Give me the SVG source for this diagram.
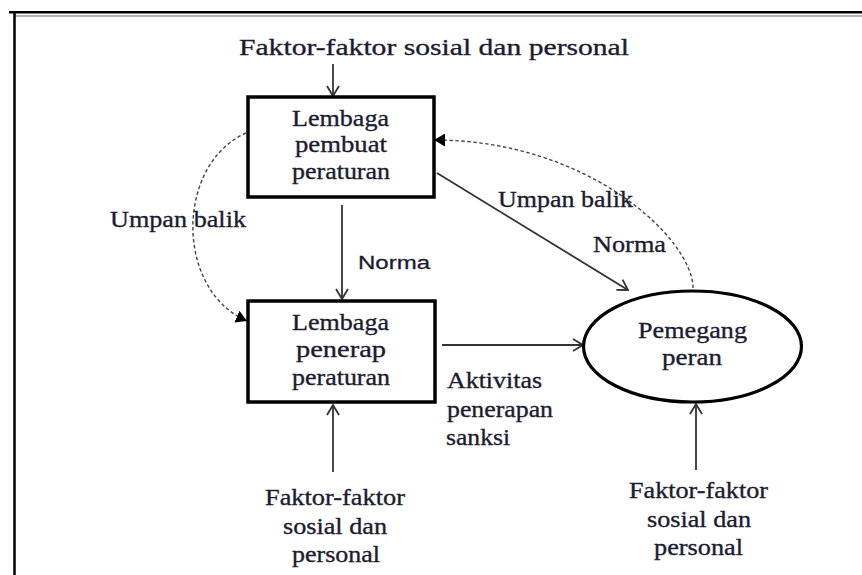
<svg xmlns="http://www.w3.org/2000/svg" width="862" height="575" viewBox="0 0 862 575">
<defs>
<style>
.t{font-family:"Liberation Serif","Times New Roman",serif;font-size:24px;fill:#1c1c30;stroke:#1c1c30;stroke-width:0.35;text-anchor:start}
.s{font-family:"Liberation Sans",Arial,sans-serif;font-size:19px;fill:#1c1c30;stroke:#1c1c30;stroke-width:0.3}
.box{fill:#fff;stroke:#000;stroke-width:3.5}
.ln{fill:none;stroke:#333;stroke-width:1.8}
.dash{fill:none;stroke:#444;stroke-width:1.4;stroke-dasharray:3.5 2.5}
</style>
<marker id="open" viewBox="0 0 12 14" refX="11" refY="7" markerWidth="12" markerHeight="14" markerUnits="userSpaceOnUse" orient="auto">
<path d="M1,1 L11,7 L1,13" fill="none" stroke="#333" stroke-width="1.8"/>
</marker>
<marker id="fill" viewBox="0 0 12 14" refX="12" refY="7" markerWidth="11" markerHeight="13" markerUnits="userSpaceOnUse" orient="auto">
<path d="M0,0 L12,7 L0,14 Z" fill="#000"/>
</marker>
</defs>
<rect width="862" height="575" fill="#fff"/>
<g id="frame">
<line x1="9" y1="12.3" x2="862" y2="12.3" stroke="#000" stroke-width="2.5"/>
<line x1="14" y1="16" x2="862" y2="16" stroke="#999" stroke-width="1.5"/>
<line x1="14.5" y1="11" x2="14.5" y2="575" stroke="#000" stroke-width="2.5"/>
</g>
<g id="connectors">
<line class="ln" x1="333" y1="64" x2="333" y2="96" marker-end="url(#open)"/>
<line class="ln" x1="342" y1="205" x2="342" y2="299" marker-end="url(#open)"/>
<line class="ln" x1="437" y1="173" x2="628" y2="290" marker-end="url(#open)"/>
<line class="ln" x1="442" y1="345" x2="583" y2="345" marker-end="url(#open)"/>
<line class="ln" x1="333" y1="472" x2="333" y2="405" marker-end="url(#open)"/>
<line class="ln" x1="696" y1="470" x2="696" y2="404" marker-end="url(#open)"/>
<path class="dash" d="M246,133 C175,165 175,290 247,321" marker-end="url(#fill)"/>
<path class="dash" d="M693,288 C693,240 590,140 434,140" marker-end="url(#fill)"/>
</g>
<g id="node-top-factors">
<text class="t" x="239" y="55" textLength="390" lengthAdjust="spacingAndGlyphs">Faktor-faktor sosial dan personal</text>
</g>
<g id="node-pembuat">
<rect class="box" x="248" y="97" width="186" height="100"/>
<text class="t" x="292" y="126" textLength="97" lengthAdjust="spacingAndGlyphs">Lembaga</text>
<text class="t" x="295" y="152" textLength="92" lengthAdjust="spacingAndGlyphs">pembuat</text>
<text class="t" x="292" y="179" textLength="98" lengthAdjust="spacingAndGlyphs">peraturan</text>
</g>
<g id="node-penerap">
<rect class="box" x="248" y="301" width="187" height="101"/>
<text class="t" x="292" y="330" textLength="97" lengthAdjust="spacingAndGlyphs">Lembaga</text>
<text class="t" x="296" y="357" textLength="90" lengthAdjust="spacingAndGlyphs">penerap</text>
<text class="t" x="292" y="385" textLength="98" lengthAdjust="spacingAndGlyphs">peraturan</text>
</g>
<g id="node-pemegang">
<ellipse cx="692.5" cy="346.5" rx="109" ry="55.5" fill="#fff" stroke="#000" stroke-width="3.2"/>
<text class="t" x="638" y="338" textLength="109" lengthAdjust="spacingAndGlyphs">Pemegang</text>
<text class="t" x="662" y="365" textLength="60" lengthAdjust="spacingAndGlyphs">peran</text>
</g>
<g id="labels">
<text class="t" x="110" y="227" textLength="136" lengthAdjust="spacingAndGlyphs">Umpan balik</text>
<text class="s" x="358" y="269" textLength="72" lengthAdjust="spacingAndGlyphs">Norma</text>
<text class="t" x="498" y="207" textLength="135" lengthAdjust="spacingAndGlyphs">Umpan balik</text>
<text class="t" x="593" y="252" textLength="73" lengthAdjust="spacingAndGlyphs">Norma</text>
<text class="t" x="447" y="388" textLength="95" lengthAdjust="spacingAndGlyphs">Aktivitas</text>
<text class="t" x="447" y="417" textLength="106" lengthAdjust="spacingAndGlyphs">penerapan</text>
<text class="t" x="446" y="445" textLength="64" lengthAdjust="spacingAndGlyphs">sanksi</text>
</g>
<g id="node-bottom-left-factors">
<text class="t" x="265" y="505" textLength="140" lengthAdjust="spacingAndGlyphs">Faktor-faktor</text>
<text class="t" x="283" y="534" textLength="104" lengthAdjust="spacingAndGlyphs">sosial dan</text>
<text class="t" x="292" y="562" textLength="88" lengthAdjust="spacingAndGlyphs">personal</text>
</g>
<g id="node-bottom-right-factors">
<text class="t" x="629" y="498" textLength="139" lengthAdjust="spacingAndGlyphs">Faktor-faktor</text>
<text class="t" x="647" y="527" textLength="104" lengthAdjust="spacingAndGlyphs">sosial dan</text>
<text class="t" x="654" y="555" textLength="89" lengthAdjust="spacingAndGlyphs">personal</text>
</g>
</svg>
